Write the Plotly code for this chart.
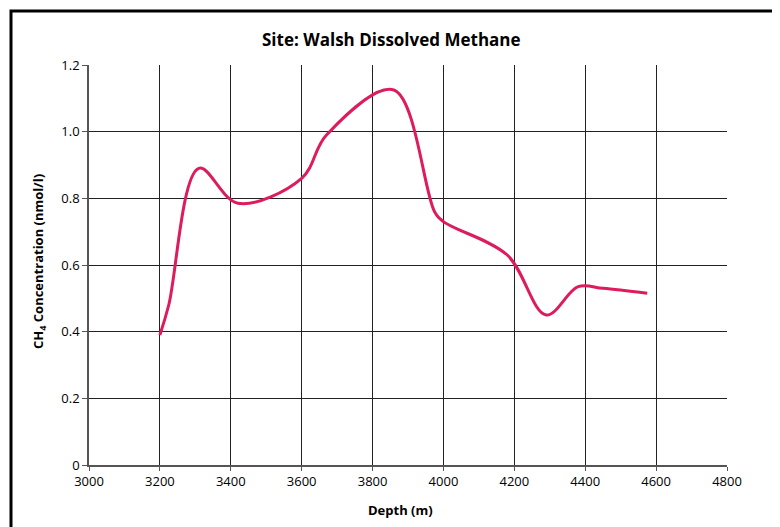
import plotly.graph_objects as go

depth = [3200, 3225, 3310, 3420, 3600, 3670, 3860, 3975, 4000, 4180, 4290, 4380, 4450, 4575]
ch4 = [0.39, 0.48, 0.89, 0.785, 0.86, 0.99, 1.125, 0.76, 0.73, 0.63, 0.45, 0.535, 0.53, 0.515]

x_ticks = [3000, 3200, 3400, 3600, 3800, 4000, 4200, 4400, 4600, 4800]
y_ticks = [0, 0.2, 0.4, 0.6, 0.8, 1.0, 1.2]
y_ticktext = ["0", "0.2", "0.4", "0.6", "0.8", "1.0", "1.2"]

FONT = "Open Sans, Lato, Arial, sans-serif"

# page renders with ~7px offset, so layout is shifted accordingly
OFF = 7
L, T, PW, PH = 88 - OFF, 64 - OFF, 638, 400

fig = go.Figure()
fig.add_trace(go.Scatter(
    x=depth, y=ch4, mode="lines",
    line=dict(color="#DE1B5C", width=3, shape="spline", smoothing=1.0),
    hoverinfo="x+y", showlegend=False,
))


def px(xf):
    return (xf - OFF - L) / PW


def py(yf):
    return (T + PH - (yf - OFF)) / PH


fig.update_layout(
    width=780, height=527,
    margin=dict(l=L, r=780 - L - PW, t=T, b=527 - T - PH),
    paper_bgcolor="white", plot_bgcolor="white",
    font=dict(family=FONT, size=12, color="black"),
    xaxis=dict(range=[3000, 4800], tickvals=x_ticks, showgrid=True, gridcolor="#222",
               gridwidth=1, showline=True, linecolor="#555", linewidth=1.5,
               ticks="outside", ticklen=4, tickcolor="#555", zeroline=False,
               tickfont=dict(size=13)),
    yaxis=dict(range=[0, 1.2], tickvals=y_ticks, ticktext=y_ticktext, showgrid=True,
               gridcolor="#222", gridwidth=1, showline=True, linecolor="#555",
               linewidth=1.5, ticks="outside", ticklen=5, tickcolor="#555", zeroline=False,
               tickfont=dict(size=13)),
    annotations=[
        dict(text="<b>Site: Walsh Dissolved Methane</b>", xref="paper", yref="paper",
             x=px(390), y=py(38), xanchor="center", yanchor="middle", showarrow=False,
             font=dict(size=17, family=FONT)),
        dict(text="<b>Depth (m)</b>", xref="paper", yref="paper",
             x=px(399), y=py(509), xanchor="center", yanchor="middle", showarrow=False,
             font=dict(size=13, family=FONT)),
        dict(text="<b>CH<sub>4</sub> Concentration (nmol/l)</b>", xref="paper", yref="paper",
             x=px(38), y=py(260), xanchor="center", yanchor="middle", showarrow=False,
             textangle=-90, font=dict(size=13, family=FONT)),
    ],
)

# outer frame (extends past the bottom edge as in the reference)
fig.add_shape(type="rect", xref="paper", yref="paper",
              x0=px(10), x1=px(775), y0=py(560), y1=py(10),
              line=dict(color="black", width=3), fillcolor="rgba(0,0,0,0)", layer="below")

fig.write_html("out.html")
